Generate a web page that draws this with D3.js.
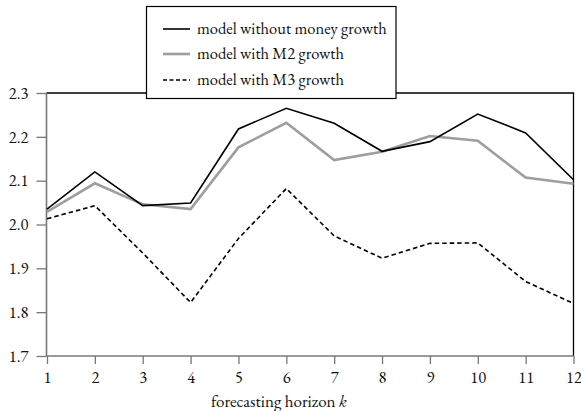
<!DOCTYPE html>
<html><head><meta charset="utf-8">
<script src="https://cdn.jsdelivr.net/npm/d3@7"></script>
<style>body{margin:0;background:#fff}svg{display:block}</style>
</head><body>
<svg id="c" width="581" height="411"></svg>
<script>
const horizons = [1,2,3,4,5,6,7,8,9,10,11,12];
const noMoney = [2.035,2.120,2.043,2.049,2.218,2.265,2.231,2.167,2.189,2.252,2.209,2.102];
const withM2  = [2.029,2.094,2.046,2.035,2.176,2.232,2.147,2.166,2.202,2.191,2.107,2.093];
const withM3  = [2.013,2.043,1.935,1.822,1.968,2.082,1.974,1.923,1.957,1.958,1.870,1.820];
const yTicks = [1.7,1.8,1.9,2.0,2.1,2.2,2.3];
const seriesNames = ["model without money growth","model with M2 growth","model with M3 growth"];

const FONT = '"EB Garamond"';
const FS = 16.5;
const svg = d3.select("#c");
const L=46.5, R=573.5, T=93, B=356;
const x = d3.scaleLinear().domain([1,12]).range([L+0.5,R]);
const y = d3.scaleLinear().domain([1.7,2.3]).range([B,T]);

svg.append("path").attr("d",`M${L},${T}H${R}V${B}`).attr("fill","none").attr("stroke","#000").attr("stroke-width",1.3);

const yAxis = svg.append("g").attr("transform",`translate(${L},0)`)
  .call(d3.axisLeft(y).tickValues(yTicks).tickFormat(d3.format(".1f")).tickSizeOuter(0).tickSize(10).tickPadding(8));
const xAxis = svg.append("g").attr("transform",`translate(0,${B})`)
  .call(d3.axisBottom(x).tickValues(horizons).tickFormat(d3.format("d")).tickSizeOuter(0).tickSize(8).tickPadding(7));
[yAxis,xAxis].forEach(g=>{
  g.selectAll("path.domain").attr("stroke","#777").attr("stroke-width",1.6);
  g.selectAll(".tick line").attr("stroke","#777").attr("stroke-width",1.3);
  g.selectAll("text").attr("fill","#111").attr("font-family",FONT).attr("font-size",FS);
});
xAxis.select("path.domain").attr("d",`M${L},0H${R}`);
yAxis.select("path.domain").attr("d",`M0,${T}V${B}`);

const line = d3.line().x((d,i)=>x(horizons[i])).y(d=>y(d));
const styles = [
  {data:noMoney, stroke:"#000", w:1.6, dash:null},
  {data:withM2, stroke:"#9e9e9e", w:2.6, dash:null},
  {data:withM3, stroke:"#000", w:1.6, dash:"4.5,3"}
];
[2,1,0].forEach(k=>{
  const s=styles[k];
  svg.append("path").datum(s.data).attr("d",line).attr("fill","none")
    .attr("stroke",s.stroke).attr("stroke-width",s.w).attr("stroke-dasharray",s.dash)
    .attr("stroke-linejoin","miter");
});

const lg = svg.append("g");
lg.append("rect").attr("x",146.5).attr("y",6.5).attr("width",249.5).attr("height",92)
  .attr("fill","#fff").attr("stroke","#000").attr("stroke-width",1.2);
const ly=[29,54,80];
seriesNames.forEach((n,i)=>{
  const s=styles[i];
  lg.append("line").attr("x1",163).attr("x2",190).attr("y1",ly[i]).attr("y2",ly[i])
    .attr("stroke",s.stroke).attr("stroke-width",s.w).attr("stroke-dasharray",s.dash?"4,2.5":null);
  lg.append("text").attr("x",197).attr("y",ly[i]+5).attr("fill","#111")
    .attr("font-family",FONT).attr("font-size",FS).text(n);
});

const t = svg.append("text").attr("x",211).attr("y",406.5).attr("font-family",FONT).attr("font-size",17).attr("fill","#111");
t.append("tspan").text("forecasting horizon ");
t.append("tspan").attr("font-style","italic").text("k");
</script>
</body></html>
